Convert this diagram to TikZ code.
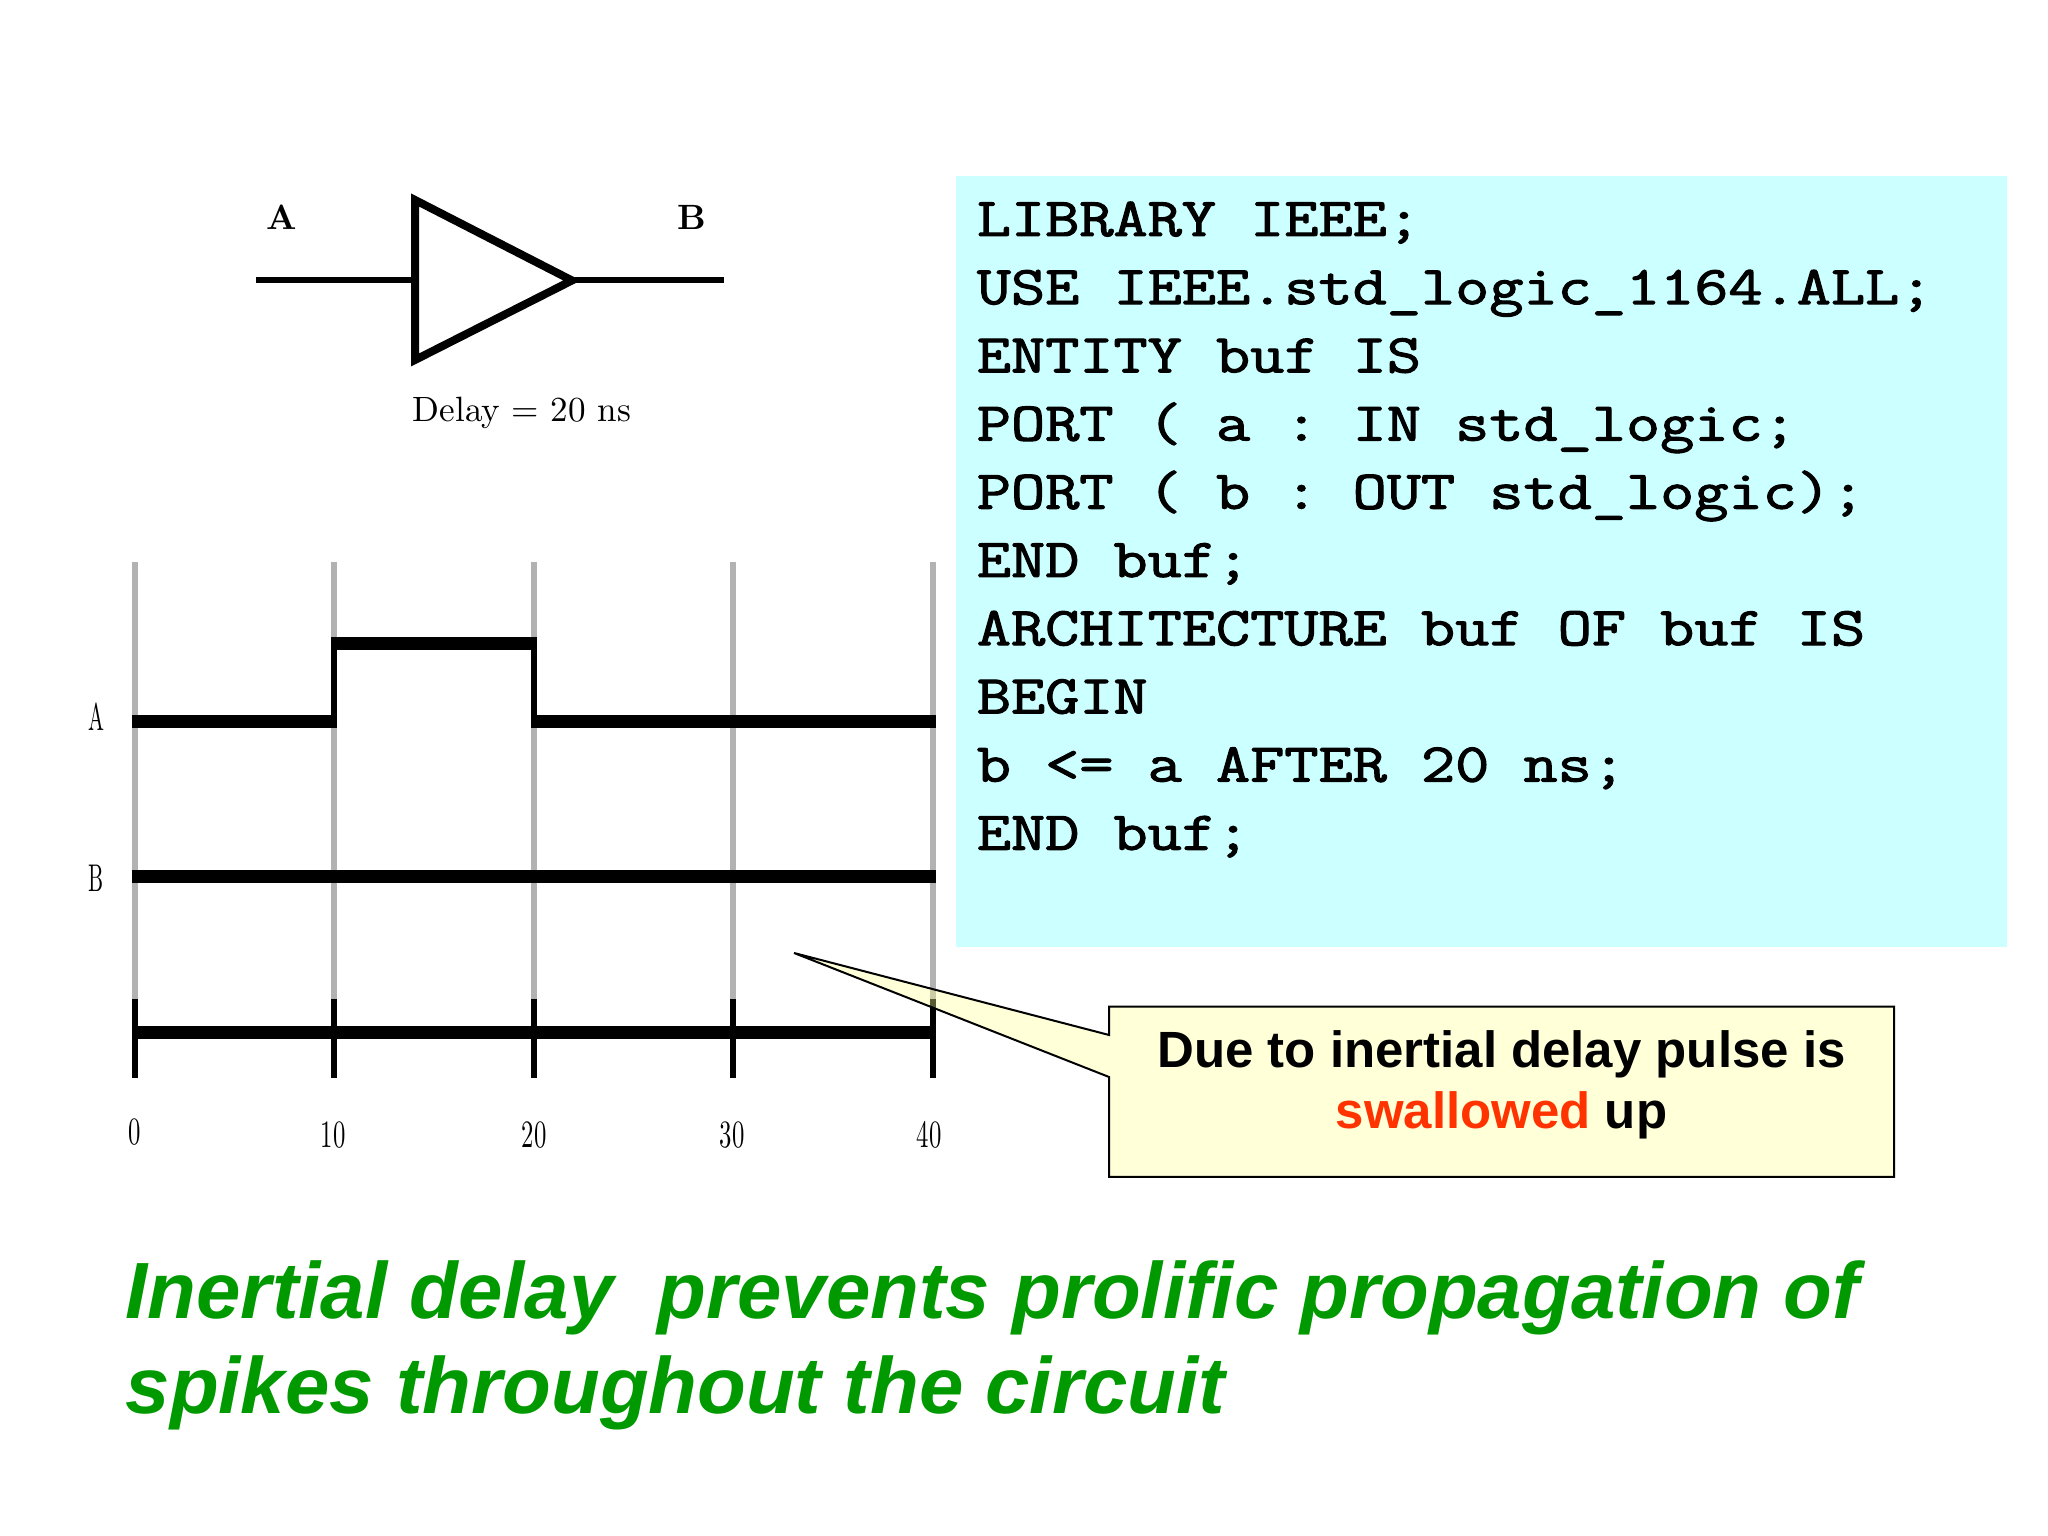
\documentclass[tikz,border=0pt]{standalone}
\usepackage{fontspec}
\setmainfont{Latin Modern Roman}
\newfontfamily\codefont{Latin Modern Mono}[FakeBold=1.8]
\newfontfamily\arialfont{Liberation Sans}
\definecolor{codebg}{HTML}{CCFFFF}
\definecolor{notebg}{HTML}{FFFF90}
\definecolor{gridgray}{HTML}{B2B2B2}
\definecolor{slidegreen}{HTML}{009900}
\definecolor{swallowred}{HTML}{FF3300}
\tikzset{
    gridline/.style={line width=0.06cm,color=gridgray},
    wave/.style={line width=0.13cm,color=black},
    tick/.style={line width=0.06cm,color=black},
    codeline/.style={anchor=base west,inner sep=0pt,font=\codefont\frenchspacing\fontsize{15.6}{19}\selectfont,xscale=1.21,transform shape},
    noteline/.style={anchor=base,inner sep=0pt,font=\arialfont\bfseries\fontsize{14.5}{17}\selectfont},
    titleline/.style={anchor=base west,inner sep=0pt,color=slidegreen,font=\arialfont\bfseries\itshape\fontsize{22.7}{27}\selectfont},
    timelabel/.style={inner sep=0pt,font=\fontsize{11}{13}\selectfont,xscale=0.64,transform shape},
    sidelabel/.style={inner sep=0pt,font=\fontsize{11}{13}\selectfont,xscale=0.55,transform shape},
    gatelabel/.style={inner sep=0pt,font=\fontsize{10}{12}\selectfont},
}
\begin{document}
\begin{tikzpicture}
    \useasboundingbox (0,0) rectangle (20.48,15.36);
    % code panel
    \fill[codebg] (9.56,5.893) rectangle (20.067,13.6);
    \foreach \codetext [count=\i from 0] in {LIBRARY IEEE;,USE IEEE.std\_logic\_1164.ALL;,ENTITY buf IS,PORT ( a : IN std\_logic;,PORT ( b : OUT std\_logic);,END buf;,ARCHITECTURE buf OF buf IS,BEGIN,b <= a AFTER 20 ns;,END buf;}
        \node (code\i) at (9.76,13-0.682*\i) [codeline] {\codetext};
    % buffer
    \coordinate (gateIn) at (2.56,12.555);
    \coordinate (gateOut) at (7.235,12.555);
    \coordinate (gateTop) at (4.15,13.36);
    \coordinate (gateBot) at (4.15,11.76);
    \coordinate (gateTip) at (5.72,12.555);
    \draw[line width=0.06cm] (gateIn)--(4.15,12.555);
    \draw[line width=0.06cm] (gateTip)--(gateOut);
    \draw[line width=0.08cm] (gateTop)--(gateTip)--(gateBot)--cycle;
    \node (gateA) at (2.82,13.19) [gatelabel] {\bfseries A};
    \node (gateB) at (6.92,13.19) [gatelabel] {\bfseries B};
    \node (gateDelay) at (5.22,11.23) [gatelabel] {Delay = 20 ns};
    % timing grid
    \foreach \x/\t/\lx in {1.345/0/1.35,3.34/10/3.33,5.34/20/5.34,7.33/30/7.32,9.33/40/9.29} {
        \draw[gridline] (\x,9.74)--(\x,5.37);
        \draw[tick] (\x,5.37)--(\x,4.58);
        \node (time\t) at (\lx,\ifnum\t=0 4.04\else 4.01\fi) [timelabel] {\t};
    }
    \draw[wave] (1.315,8.14)--(3.37,8.14);
    \draw[tick] (3.34,8.14)--(3.34,8.98);
    \draw[wave] (3.31,8.92)--(5.37,8.92);
    \draw[tick] (5.34,8.98)--(5.34,8.14);
    \draw[wave] (5.31,8.14)--(9.36,8.14);
    \draw[wave] (1.315,6.59)--(9.36,6.59);
    \draw[wave] (1.345,5.03)--(9.33,5.03);
    \node (sigA) at (0.96,8.19) [sidelabel] {A};
    \node (sigB) at (0.96,6.58) [sidelabel] {B};
    % note with its pointer
    \coordinate (noteTip) at (7.94,5.83);
    \filldraw[fill=notebg,fill opacity=0.35,line width=0.02cm] (noteTip)--(11.09,5.01)--(11.09,5.293)--(18.94,5.293)--(18.94,3.59)--(11.09,3.59)--(11.09,4.59)--cycle;
    \node (noteA) at (15.015,4.68) [noteline] {Due to inertial delay pulse is};
    \node (noteB) at (15.015,4.07) [noteline] {\textcolor{swallowred}{swallowed} up};
    % conclusion
    \node (titleA) at (1.25,2.17) [titleline] {Inertial delay\ \ prevents prolific propagation of};
    \node (titleB) at (1.25,1.22) [titleline] {spikes throughout the circuit};
\end{tikzpicture}
\end{document}
